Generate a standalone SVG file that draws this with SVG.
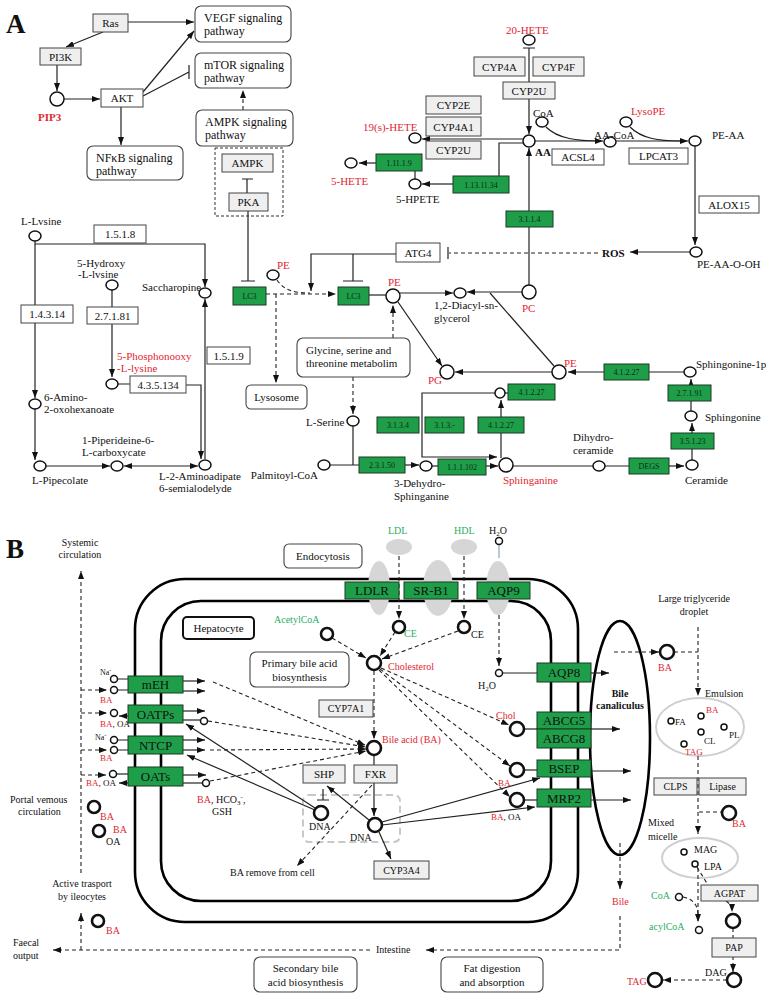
<svg xmlns="http://www.w3.org/2000/svg" width="767" height="995" viewBox="0 0 767 995">
<style>
text{font-family:"Liberation Serif","Times New Roman",serif;font-size:11px;fill:#111}
.r{fill:#e3262f}.g{fill:#2aae5f}.b{font-weight:bold}
.s9{font-size:9px}.s8{font-size:8px}.s10{font-size:10px}.s12{font-size:12px}.s13{font-size:13px}
.m{text-anchor:middle}
.bx{fill:#efefef;stroke:#444;stroke-width:1}
.wb{fill:#fff;stroke:#444;stroke-width:1}
.gb{fill:#1f9e4a;stroke:#1a3a22;stroke-width:1}
.gt{font-size:8px;fill:#0b2a12;text-anchor:middle}
.rb{fill:#fff;stroke:#444;stroke-width:1.1}
.c{fill:#fff;stroke:#111;stroke-width:1.5}
.ct{fill:#fff;stroke:#111;stroke-width:2.6}
.ln{fill:none;stroke:#222;stroke-width:1.2}
.dl{fill:none;stroke:#222;stroke-width:1.1;stroke-dasharray:4 3}
.mem{fill:none;stroke:#000;stroke-width:2.6}
.ge{fill:#d6d6d6;stroke:none}
</style>
<defs>
<marker id="a" markerWidth="8" markerHeight="6" refX="8" refY="3" orient="auto-start-reverse" markerUnits="userSpaceOnUse"><path d="M0,0 L8,3 L0,6 z" fill="#111"/></marker>
</defs>

<!-- ================= PANEL A ================= -->
<text x="6" y="33" style="font-size:27px;font-weight:bold">A</text>

<g id="connectorsA">
<path class="ln" d="M128,22 H194" marker-end="url(#a)"/>
<path class="ln" d="M103,32 L66,47" marker-end="url(#a)"/>
<path class="ln" d="M57,65 V91" marker-end="url(#a)"/>
<path class="ln" d="M64,99 H100" marker-end="url(#a)"/>
<path class="ln" d="M143,92 L194,31" marker-end="url(#a)"/>
<path class="ln" d="M143,96 L189,72 M189,65 V79"/>
<path class="ln" d="M121,107 V145" marker-end="url(#a)"/>
<path class="dl" d="M243,110 V90" marker-end="url(#a)"/>
<path class="ln" d="M247,193 V179 M242,179 H253"/>
<path class="ln" d="M248,211 V281 M241,281 H255"/>
<!-- lysine -->
<path class="ln" d="M35,241 V398" marker-end="url(#a)"/>
<path class="ln" d="M35,244 H205 V287" marker-end="url(#a)"/>
<path class="ln" d="M112,290 V377" marker-end="url(#a)"/>
<path class="ln" d="M118,384 H130 M186,385 H201 V459" marker-end="url(#a)"/>
<path class="ln" d="M205,459 V299" marker-end="url(#a)"/>
<path class="ln" d="M35,409 V460" marker-end="url(#a)"/>
<path class="ln" d="M46,466 H110" marker-end="url(#a)"/>
<path class="ln" d="M124,466 H198" marker-start="url(#a)" marker-end="url(#a)"/>
<!-- LC3 / PE -->
<path class="ln" d="M396,254 H311 V291" marker-end="url(#a)"/>
<path class="ln" d="M353,254 V281 M343,281 H363"/>
<path class="dl" d="M277,280 C285,292 298,293 310,293"/>
<path class="dl" d="M266,294 H336" marker-end="url(#a)"/>
<path class="dl" d="M276,294 V383" marker-end="url(#a)"/>
<path class="ln" d="M369,295 H386"/>
<path class="ln" d="M400,293 H453" marker-end="url(#a)"/>
<path class="ln" d="M522,292 H467" marker-end="url(#a)"/>
<path class="ln" d="M554,366 L490,293"/>
<path class="ln" d="M398,302 L442,366" marker-end="url(#a)"/>
<path class="ln" d="M552,372 H455" marker-end="url(#a)"/>
<path class="dl" d="M393,338 V305" marker-end="url(#a)"/>
<path class="dl" d="M353,377 V414" marker-end="url(#a)"/>
<path class="ln" d="M353,426 V465 M330,465 H359"/>
<path class="ln" d="M405,465 H419" marker-end="url(#a)"/>
<path class="ln" d="M432,466 H438"/>
<path class="ln" d="M486,466 H498" marker-end="url(#a)"/>
<path class="ln" d="M501,458 V400" marker-end="url(#a)"/>
<path class="ln" d="M495,393 H422 V457 H497" marker-end="url(#a)"/>
<path class="ln" d="M505,393 H508"/>
<path class="ln" d="M690,372 H649 M604,372 H568" marker-end="url(#a)"/>
<path class="ln" d="M691,411 V379" marker-end="url(#a)"/>
<path class="ln" d="M692,460 V423" marker-end="url(#a)"/>
<path class="ln" d="M513,466 H593 M605,466 H629"/>
<path class="ln" d="M669,466 H684" marker-end="url(#a)"/>
<!-- AA -->
<path class="ln" d="M523,48 H535 M529,48 V134" marker-end="url(#a)"/>
<path class="ln" d="M546,127 C558,139 578,141 600,141"/>
<path class="ln" d="M535,141 H603" marker-end="url(#a)"/>
<path class="ln" d="M630,127 C642,139 660,141 680,141"/>
<path class="ln" d="M616,141 H688" marker-end="url(#a)"/>
<path class="ln" d="M695,146 V245" marker-end="url(#a)"/>
<path class="ln" d="M690,252 H630" marker-end="url(#a)"/>
<path class="dl" d="M598,253 H449"/>
<path class="ln" d="M448,247 V259"/>
<path class="ln" d="M529,285 V148" marker-end="url(#a)"/>
<path class="ln" d="M523,139 H422" marker-end="url(#a)"/>
<path class="ln" d="M524,143 H499 V176"/>
<path class="ln" d="M453,184 H422" marker-end="url(#a)"/>
<path class="ln" d="M415,179 V171"/>
<path class="ln" d="M376,163 H359" marker-end="url(#a)"/>
</g>

<g id="ras"><rect class="bx" x="93" y="14" width="35" height="18"/><text class="m" x="110.5" y="27">Ras</text></g>
<g id="pi3k"><rect class="bx" x="40" y="48" width="41" height="17"/><text class="m" x="60.5" y="61">PI3K</text></g>
<g id="pip3"><circle class="c" cx="57" cy="99" r="7"/><text class="r b" x="38" y="121">PIP3</text></g>
<g id="akt"><rect class="wb" x="101" y="89" width="42" height="18"/><text class="m" x="122" y="102">AKT</text></g>
<g id="nfkb"><rect class="rb" x="87" y="146" width="96" height="34" rx="6"/><text class="s12" x="96" y="162">NFκB  signaling</text><text class="s12" x="96" y="175">pathway</text></g>
<g id="vegf"><rect class="rb" x="195" y="6" width="96" height="36" rx="6"/><text class="s12" x="204" y="22">VEGF  signaling</text><text class="s12" x="204" y="35">pathway</text></g>
<g id="mtor"><rect class="rb" x="195" y="53" width="96" height="35" rx="6"/><text class="s12" x="204" y="69">mTOR  signaling</text><text class="s12" x="204" y="82">pathway</text></g>
<g id="ampksig"><rect class="rb" x="196" y="110" width="97" height="36" rx="6"/><text class="s12" x="205" y="126">AMPK  signaling</text><text class="s12" x="205" y="139">pathway</text></g>
<rect x="215" y="148" width="68" height="68" fill="none" stroke="#333" stroke-width="1" stroke-dasharray="3 2"/>
<g id="ampk"><rect class="bx" x="222" y="154" width="51" height="18"/><text class="m" x="247.5" y="167">AMPK</text></g>
<g id="pka"><rect class="bx" x="229" y="193" width="39" height="18"/><text class="m" x="248.5" y="206">PKA</text></g>
<g id="lc3a"><rect class="gb" x="233" y="287" width="33" height="18"/><text class="gt" x="249.5" y="299">LC3</text></g>
<g id="lc3b"><rect class="gb" x="338" y="287" width="31" height="18"/><text class="gt" x="353.5" y="299">LC3</text></g>

<g id="llysine"><text x="21" y="225">L-Lvsine</text><ellipse class="c" cx="35" cy="236" rx="6" ry="5"/></g>
<g id="e1518"><rect class="wb" x="94" y="225" width="52" height="18"/><text class="m" x="120" y="238">1.5.1.8</text></g>
<g id="e14314"><rect class="wb" x="21" y="305" width="52" height="18"/><text class="m" x="47" y="318">1.4.3.14</text></g>
<g id="hydroxy"><text x="77" y="267">5-Hydroxy</text><text x="78" y="278">-L-lvsine</text><ellipse class="c" cx="112" cy="285" rx="6" ry="5"/></g>
<g id="e27181"><rect class="wb" x="87" y="307" width="51" height="17"/><text class="m" x="112.5" y="320">2.7.1.81</text></g>
<g id="phospho"><text class="r" x="117" y="360">5-Phosphonooxy</text><text class="r" x="117" y="372">-L-lysine</text><ellipse class="c" cx="112" cy="384" rx="6" ry="5"/></g>
<g id="e435134"><rect class="wb" x="130" y="376" width="56" height="17"/><text class="m" x="158" y="389">4.3.5.134</text></g>
<g id="sacch"><text x="142" y="291">Saccharopine</text><ellipse class="c" cx="205" cy="293" rx="6" ry="5"/></g>
<g id="e1519"><rect class="wb" x="207" y="347" width="43" height="17"/><text class="m" x="228.5" y="360">1.5.1.9</text></g>
<g id="amino6"><ellipse class="c" cx="35" cy="404" rx="6" ry="5"/><text x="44" y="401">6-Amino-</text><text x="44" y="413">2-oxohexanoate</text></g>
<g id="pipecolate"><ellipse class="c" cx="40" cy="466" rx="6" ry="5"/><text x="32" y="484">L-Pipecolate</text></g>
<g id="piperideine"><ellipse class="c" cx="117" cy="466" rx="6" ry="5"/><text x="82" y="444">1-Piperideine-6-</text><text x="82" y="456">L-carboxycate</text></g>
<g id="aminoadipate"><ellipse class="c" cx="205" cy="465" rx="6" ry="5"/><text x="159" y="480">L-2-Aminoadipate</text><text x="159" y="492">6-semialodelyde</text></g>

<g id="atg4"><rect class="wb" x="396" y="243" width="44" height="19"/><text class="m" x="418" y="257">ATG4</text></g>
<g id="pe1"><ellipse class="c" cx="273" cy="275" rx="6" ry="5"/><text class="r" x="277" y="269">PE</text></g>
<g id="lysosome"><rect class="rb" x="246" y="385" width="61" height="24" rx="5"/><text class="m" x="276.5" y="401">Lysosome</text></g>
<g id="pe2"><circle class="c" cx="393" cy="296" r="7"/><text class="r" x="388" y="286">PE</text></g>
<g id="diacyl"><ellipse class="c" cx="460" cy="293" rx="6" ry="5"/><text x="434" y="309">1,2-Diacyl-sn-</text><text x="434" y="322">glycerol</text></g>
<g id="pg"><circle class="c" cx="447" cy="372" r="7"/><text class="r" x="428" y="384">PG</text></g>
<g id="glycine"><rect class="rb" x="297" y="338" width="113" height="39" rx="6"/><text x="306" y="354">Glycine, serine and</text><text x="306" y="367">threonine metabolim</text></g>
<g id="lserine"><text x="306" y="426">L-Serine</text><ellipse class="c" cx="353" cy="421" rx="6" ry="5"/></g>
<g id="palmitoyl"><ellipse class="c" cx="324" cy="465" rx="6" ry="5"/><text x="318" y="479" style="text-anchor:end">Palmitoyl-CoA</text></g>
<g id="e23150"><rect class="gb" x="359" y="457" width="46" height="16"/><text class="gt" x="382" y="468">2.3.1.50</text></g>
<g id="dehydro"><ellipse class="c" cx="426" cy="466" rx="6" ry="5"/><text x="394" y="487">3-Dehydro-</text><text x="394" y="500">Sphinganine</text></g>
<g id="e111102"><rect class="gb" x="438" y="459" width="48" height="16"/><text class="gt" x="462" y="470">1.1.1.102</text></g>
<g id="sphinganine"><circle class="c" cx="506" cy="465" r="7"/><text class="r" x="503" y="484">Sphinganine</text></g>
<g id="e3134"><rect class="gb" x="377" y="417" width="42" height="16"/><text class="gt" x="398" y="428">3.1.3.4</text></g>
<g id="e313"><rect class="gb" x="425" y="417" width="39" height="16"/><text class="gt" x="444.5" y="428">3.1.3.-</text></g>
<g id="e41227a"><rect class="gb" x="478" y="417" width="46" height="16"/><text class="gt" x="501" y="428">4.1.2.27</text></g>
<g id="cir393"><ellipse class="c" cx="500" cy="393" rx="5" ry="5"/></g>
<g id="e41227b"><rect class="gb" x="508" y="384" width="47" height="16"/><text class="gt" x="531.5" y="395">4.1.2.27</text></g>
<g id="pe3"><circle class="c" cx="559" cy="372" r="7"/><text class="r" x="564" y="367">PE</text></g>
<g id="e41227c"><rect class="gb" x="604" y="364" width="45" height="16"/><text class="gt" x="626.5" y="375">4.1.2.27</text></g>
<g id="sph1p"><ellipse class="c" cx="690" cy="372" rx="6" ry="5"/><text x="696" y="368">Sphingonine-1p</text></g>
<g id="e27191"><rect class="gb" x="668" y="385" width="43" height="16"/><text class="gt" x="689.5" y="396">2.7.1.91</text></g>
<g id="sphingonine"><ellipse class="c" cx="691" cy="416" rx="6" ry="5"/><text x="705" y="421">Sphingonine</text></g>
<g id="e35123"><rect class="gb" x="671" y="433" width="43" height="16"/><text class="gt" x="692.5" y="444">3.5.1.23</text></g>
<g id="ceramide"><ellipse class="c" cx="692" cy="465" rx="6" ry="5"/><text x="685" y="484">Ceramide</text></g>
<g id="dihydro"><ellipse class="c" cx="599" cy="466" rx="6" ry="5"/><text x="573" y="441">Dihydro-</text><text x="573" y="454">ceramide</text></g>
<g id="degs"><rect class="gb" x="629" y="458" width="40" height="16"/><text class="gt" x="649" y="469">DEGS</text></g>

<g id="hete20"><text class="r" x="506" y="34">20-HETE</text><ellipse class="c" cx="529" cy="40" rx="6" ry="5"/></g>
<g id="cyp4a"><rect class="bx" x="474" y="57" width="51" height="19"/><text class="m" x="499.5" y="71">CYP4A</text></g>
<g id="cyp4f"><rect class="bx" x="533" y="57" width="51" height="19"/><text class="m" x="558.5" y="71">CYP4F</text></g>
<g id="cyp2u1"><rect class="bx" x="503" y="82" width="52" height="17"/><text class="m" x="529" y="95">CYP2U</text></g>
<g id="coa"><text x="533" y="117">CoA</text><ellipse class="c" cx="542" cy="122" rx="6" ry="5"/></g>
<g id="aa"><circle class="c" cx="529" cy="141" r="6"/><text class="b" x="535" y="156">AA</text></g>
<g id="aacoa"><ellipse class="c" cx="610" cy="142" rx="6" ry="5"/><text x="594" y="139">AA-CoA</text></g>
<g id="acsl4"><rect class="wb" x="552" y="149" width="52" height="16"/><text class="m" x="578" y="161">ACSL4</text></g>
<g id="lysope"><text class="r" x="631" y="115">LysoPE</text><ellipse class="c" cx="626" cy="122" rx="6" ry="5"/></g>
<g id="peaa"><ellipse class="c" cx="695" cy="141" rx="6" ry="5"/><text x="712" y="139">PE-AA</text></g>
<g id="lpcat3"><rect class="wb" x="629" y="148" width="59" height="16"/><text class="m" x="658.5" y="160">LPCAT3</text></g>
<g id="alox15"><rect class="wb" x="699" y="196" width="60" height="17"/><text class="m" x="729" y="209">ALOX15</text></g>
<g id="peaaooh"><ellipse class="c" cx="696" cy="252" rx="6" ry="5"/><text x="697" y="268">PE-AA-O-OH</text></g>
<g id="ros"><text class="b" x="602" y="257">ROS</text></g>
<g id="e3114"><rect class="gb" x="506" y="211" width="47" height="16"/><text class="gt" x="529.5" y="222">3.1.1.4</text></g>
<g id="pc"><circle class="c" cx="529" cy="292" r="7"/><text class="r" x="522" y="312">PC</text></g>
<g id="hete19"><ellipse class="c" cx="415" cy="138" rx="6" ry="5"/><text class="r" x="363" y="131">19(s)-HETE</text></g>
<g id="cyp2e"><rect class="bx" x="426" y="96" width="55" height="18"/><text class="m" x="453.5" y="109">CYP2E</text></g>
<g id="cyp4a1"><rect class="bx" x="426" y="117" width="55" height="19"/><text class="m" x="453.5" y="131">CYP4A1</text></g>
<g id="cyp2u2"><rect class="bx" x="426" y="141" width="55" height="18"/><text class="m" x="453.5" y="154">CYP2U</text></g>
<g id="e1131134"><rect class="gb" x="453" y="176" width="56" height="17"/><text class="gt" x="481" y="188">1.13.11.34</text></g>
<g id="hpete"><ellipse class="c" cx="415" cy="184" rx="6" ry="5"/><text x="396" y="203">5-HPETE</text></g>
<g id="e11119"><rect class="gb" x="376" y="154" width="46" height="17"/><text class="gt" x="399" y="166">1.11.1.9</text></g>
<g id="hete5"><ellipse class="c" cx="351" cy="163" rx="6" ry="5"/><text class="r" x="331" y="185">5-HETE</text></g>

<!-- ================= PANEL B ================= -->
<text x="6" y="558" style="font-size:27px;font-weight:bold">B</text>

<g id="membranes">
<rect class="mem" x="135" y="579" width="443" height="343" rx="50"/>
<rect class="mem" x="161" y="601" width="390" height="300" rx="40"/>
<ellipse class="ge" cx="379" cy="588" rx="11" ry="27"/>
<ellipse class="ge" cx="438" cy="588" rx="15" ry="28"/>
<ellipse class="ge" cx="498" cy="588" rx="12" ry="27"/>
<ellipse class="ge" cx="399" cy="547" rx="13" ry="8"/>
<ellipse class="ge" cx="464" cy="547" rx="13" ry="8"/>
<ellipse cx="620" cy="738" rx="30" ry="117" fill="none" stroke="#000" stroke-width="2.6"/>
<ellipse cx="700" cy="727" rx="44" ry="29" fill="none" stroke="#cfcfcf" stroke-width="2"/>
<ellipse cx="700" cy="858" rx="38" ry="20" fill="none" stroke="#cfcfcf" stroke-width="2"/>
<rect x="303" y="795" width="97" height="47" rx="6" fill="none" stroke="#c8c8c8" stroke-width="2" stroke-dasharray="7 4"/>
</g>

<g id="connectorsB">
<path class="dl" d="M81,873 V571" marker-end="url(#a)"/>
<path class="dl" d="M81,690 H107" marker-end="url(#a)"/>
<path class="dl" d="M81,713 H107" marker-end="url(#a)"/>
<path class="dl" d="M81,750 H107" marker-end="url(#a)"/>
<path class="dl" d="M81,775 H106" marker-end="url(#a)"/>
<path class="dl" d="M81,950 V913" marker-end="url(#a)"/>
<path class="dl" d="M620,916 V950 H426" marker-end="url(#a)"/>
<path class="dl" d="M370,950 H53" marker-end="url(#a)"/>
<path class="dl" d="M620,843 V889" marker-end="url(#a)"/>
<path d="M499,545 V558" stroke="#7a8fb0" stroke-width="1" fill="none"/>
<path class="dl" d="M499,615 V666" marker-end="url(#a)"/>
<path class="ln" d="M503,673 H537"/>
<path class="ln" d="M591,673 H609" marker-end="url(#a)"/>
<path class="dl" d="M399,556 V619" marker-end="url(#a)"/>
<path class="dl" d="M464,556 V619" marker-end="url(#a)"/>
<path class="dl" d="M332,638 L366,658" marker-end="url(#a)"/>
<path class="dl" d="M395,632 L380,656" marker-end="url(#a)"/>
<path class="dl" d="M458,631 L382,659" marker-end="url(#a)"/>
<path class="dl" d="M374,671 V739" marker-end="url(#a)"/>
<path class="ln" d="M374,755 V765"/>
<path class="dl" d="M381,668 L509,725" marker-end="url(#a)"/>
<path class="dl" d="M380,669 L510,766" marker-end="url(#a)"/>
<path class="dl" d="M379,670 L510,797" marker-end="url(#a)"/>
<path class="ln" d="M524,729 H537"/>
<path class="ln" d="M591,729 H620" marker-end="url(#a)"/>
<path class="ln" d="M524,770 H537"/>
<path class="ln" d="M591,771 H631" marker-end="url(#a)"/>
<path class="ln" d="M524,800 H537"/>
<path class="ln" d="M591,800 H631" marker-end="url(#a)"/>
<path class="ln" d="M382,822 L540,778" marker-end="url(#a)"/>
<path class="ln" d="M382,825 L535,807" marker-end="url(#a)"/>
<!-- left transporters -->
<path class="ln" d="M118,679 H128 M118,690 H128"/>
<path class="ln" d="M183,681 H205" marker-end="url(#a)"/>
<path class="ln" d="M183,691 H205" marker-end="url(#a)"/>
<path class="dl" d="M213,682 L365,745" marker-end="url(#a)"/>
<path class="ln" d="M128,716 H119" marker-end="url(#a)"/>
<path class="ln" d="M183,711 H205" marker-end="url(#a)"/>
<path class="ln" d="M183,720 H200"/>
<path class="dl" d="M208,721 L366,747" marker-end="url(#a)"/>
<path class="ln" d="M118,740 H128 M118,750 H128"/>
<path class="ln" d="M183,740 H205" marker-end="url(#a)"/>
<path class="ln" d="M183,750 H205" marker-end="url(#a)"/>
<path class="dl" d="M210,750 L366,749" marker-end="url(#a)"/>
<path class="ln" d="M117,774 H128"/>
<path class="ln" d="M128,783 H119" marker-end="url(#a)"/>
<path class="ln" d="M183,775 H206" marker-end="url(#a)"/>
<path class="ln" d="M183,783 H202"/>
<path class="dl" d="M210,781 L366,751" marker-end="url(#a)"/>
<path class="ln" d="M315,808 L186,724" marker-end="url(#a)"/>
<path class="ln" d="M315,810 L187,755" marker-end="url(#a)"/>
<!-- nucleus -->
<path class="ln" d="M323,789 V800 M317,800 H329"/>
<path class="ln" d="M374,783 V816" marker-end="url(#a)"/>
<path class="ln" d="M369,820 L327,786" marker-end="url(#a)"/>
<path class="ln" d="M379,832 L391,859" marker-end="url(#a)"/>
<path class="dl" d="M372,785 L297,866" marker-end="url(#a)"/>
<!-- right side -->
<path class="dl" d="M698,627 V696" marker-end="url(#a)"/>
<path class="dl" d="M614,652 H659" marker-end="url(#a)"/>
<path class="dl" d="M674,652 H698"/>
<path class="dl" d="M698,756 V834" marker-end="url(#a)"/>
<path class="dl" d="M699,812 H722"/>
<path class="dl" d="M698,868 V922" marker-end="url(#a)"/>
<path class="dl" d="M697,867 L708,885"/>
<path class="dl" d="M726,901 Q732,905 732,912" marker-end="url(#a)"/>
<path class="dl" d="M683,897 Q698,900 698,915"/>
<path class="dl" d="M733,928 V972" marker-end="url(#a)"/>
<path class="dl" d="M727,980 H663" marker-end="url(#a)"/>
</g>

<g id="systemic"><text class="s10 m" x="80" y="546">Systemic</text><text class="s10 m" x="80" y="558">circulation</text></g>
<g id="portal"><text class="s10" x="10" y="803">Portal vemous</text><text class="s10" x="18" y="815">circulation</text></g>
<g id="activetr"><text class="s10 m" x="82" y="887">Active trasport</text><text class="s10 m" x="82" y="900">by ileocytes</text></g>
<g id="faecal"><text class="s10" x="13" y="946">Faecal</text><text class="s10" x="13" y="959">output</text></g>
<g id="ba_portal1"><circle class="ct" cx="94" cy="807" r="6"/><text class="s10 r" x="100" y="820">BA</text></g>
<g id="ba_portal2"><circle class="ct" cx="99" cy="831" r="6"/><text class="s10 r" x="113" y="833">BA</text><text class="s10" x="106" y="845">OA</text></g>
<g id="ba_ileo"><circle class="ct" cx="98" cy="921" r="6"/><text class="s10 r" x="106" y="934">BA</text></g>
<g id="intestine"><text class="s10" x="376" y="953">Intestine</text></g>

<g id="ldlr"><rect class="gb" x="345" y="582" width="54" height="17"/><text class="s13 m" x="372" y="595">LDLR</text></g>
<g id="srb1"><rect class="gb" x="404" y="582" width="54" height="17"/><text class="s13 m" x="431" y="595">SR-B1</text></g>
<g id="aqp9"><rect class="gb" x="477" y="582" width="53" height="17"/><text class="s13 m" x="503.5" y="595">AQP9</text></g>
<g id="endocytosis"><rect class="rb" x="284" y="544" width="78" height="24" rx="5"/><text class="m" x="323" y="560">Endocytosis</text></g>
<g id="ldl"><text class="s10 g" x="388" y="534">LDL</text></g>
<g id="hdl"><text class="s10 g" x="454" y="534">HDL</text></g>
<g id="h2o_top"><text class="s10" x="489" y="534">H<tspan font-size="7" dy="2">2</tspan><tspan dy="-2">O</tspan></text><circle class="c" cx="499" cy="541" r="3.5" stroke-width="2"/></g>
<g id="h2o_in"><circle class="c" cx="499" cy="673" r="3.5" stroke-width="2"/><text class="s10" x="478" y="689">H<tspan font-size="7" dy="2">2</tspan><tspan dy="-2">O</tspan></text></g>
<g id="ce1"><circle class="ct" cx="399" cy="627" r="6"/><text class="s10 g" x="404" y="637">CE</text></g>
<g id="ce2"><circle class="ct" cx="464" cy="627" r="6"/><text class="s10" x="471" y="638">CE</text></g>
<g id="acetylcoa"><text class="s10 g" x="274" y="623">AcetylCoA</text><circle class="ct" cx="327" cy="634" r="6"/></g>
<g id="cholesterol"><circle class="ct" cx="374" cy="663" r="7"/><text class="s10 r" x="388" y="670">Cholesterol</text></g>
<g id="primary"><rect class="rb" x="250" y="652" width="99" height="35" rx="6"/><text class="m" x="299.5" y="667">Primary bile acid</text><text class="m" x="299.5" y="681">biosynthesis</text></g>
<g id="cyp7a1"><rect class="bx" x="319" y="700" width="54" height="17"/><text class="s10 m" x="346" y="712">CYP7A1</text></g>
<g id="bileacid"><circle class="ct" cx="374" cy="748" r="7"/><text class="s10 r" x="382" y="743">Bile acid (BA)</text></g>
<g id="hepatocyte"><rect x="183" y="617" width="71" height="22" rx="4" fill="#fff" stroke="#111" stroke-width="2"/><text class="m" x="218.5" y="632">Hepatocyte</text></g>

<g id="meh"><rect class="gb" x="128" y="676" width="55" height="17"/><text class="s13 m" x="155.5" y="689">mEH</text><text class="s8" x="100" y="675">Na<tspan font-size="6" dy="-3">-</tspan></text><circle class="c" cx="114" cy="679" r="3.5" stroke-width="2"/><circle class="c" cx="114" cy="690" r="3.5" stroke-width="2"/><text class="s9 r" x="100" y="703">BA</text></g>
<g id="oatps"><rect class="gb" x="128" y="705" width="55" height="18"/><text class="s13 m" x="155.5" y="719">OATPs</text><circle class="c" cx="114" cy="713" r="3.5" stroke-width="2"/><text class="s9" x="100" y="727"><tspan class="r">BA</tspan>, OA</text><circle class="c" cx="204" cy="721" r="3.5" stroke-width="2"/></g>
<g id="ntcp"><rect class="gb" x="128" y="736" width="55" height="18"/><text class="s13 m" x="155.5" y="750">NTCP</text><text class="s8" x="95" y="740">Na<tspan font-size="6" dy="-3">-</tspan></text><circle class="c" cx="114" cy="740" r="3.5" stroke-width="2"/><circle class="c" cx="114" cy="750" r="3.5" stroke-width="2"/><text class="s9 r" x="100" y="761">BA</text></g>
<g id="oats"><rect class="gb" x="128" y="767" width="55" height="19"/><text class="s13 m" x="155.5" y="781">OATs</text><circle class="c" cx="113" cy="774" r="3.5" stroke-width="2"/><text class="s9" x="86" y="786"><tspan class="r">BA</tspan>, OA</text><circle class="c" cx="206" cy="783" r="3.5" stroke-width="2"/><text class="s10" x="197" y="803"><tspan class="r">BA</tspan>, HCO<tspan font-size="7" dy="2">3</tspan><tspan font-size="7" dy="-6">-</tspan><tspan dy="4">,</tspan></text><text class="s10" x="212" y="815">GSH</text></g>

<g id="shp"><rect class="bx" x="303" y="765" width="42" height="18"/><text class="m" x="324" y="778">SHP</text></g>
<g id="fxr"><rect class="bx" x="354" y="765" width="43" height="18"/><text class="m" x="375.5" y="778">FXR</text></g>
<g id="dna1"><circle class="ct" cx="321" cy="813" r="7"/><text class="s10" x="309" y="830">DNA</text></g>
<g id="dna2"><circle class="ct" cx="375" cy="825" r="7"/><text class="s10" x="350" y="841">DNA</text></g>
<g id="cyp3a4"><rect class="bx" x="374" y="861" width="55" height="18"/><text class="s10 m" x="401.5" y="874">CYP3A4</text></g>
<g id="baremove"><text class="s10" x="230" y="876">BA remove from cell</text></g>
<g id="secondary"><rect class="rb" x="254" y="957" width="103" height="35" rx="6"/><text class="m" x="305.5" y="972">Secondary bile</text><text class="m" x="305.5" y="986">acid biosynthesis</text></g>
<g id="fatdig"><rect class="rb" x="441" y="957" width="102" height="35" rx="6"/><text class="m" x="492" y="972">Fat digestion</text><text class="m" x="492" y="986">and absorption</text></g>

<g id="aqp8"><rect class="gb" x="537" y="663" width="54" height="19"/><text class="s13 m" x="564" y="677">AQP8</text></g>
<g id="abcg5"><rect class="gb" x="537" y="712" width="54" height="17"/><text class="s13 m" x="564" y="725">ABCG5</text></g>
<g id="abcg8"><rect class="gb" x="537" y="729" width="54" height="19"/><text class="s13 m" x="564" y="743">ABCG8</text></g>
<g id="bsep"><rect class="gb" x="537" y="760" width="54" height="17"/><text class="s13 m" x="564" y="773">BSEP</text></g>
<g id="mrp2"><rect class="gb" x="537" y="789" width="54" height="18"/><text class="s13 m" x="564" y="803">MRP2</text></g>
<g id="chol"><circle class="ct" cx="517" cy="729" r="7"/><text class="s10 r" x="496" y="719">Chol</text></g>
<g id="ba_bsep"><circle class="ct" cx="517" cy="770" r="7"/><text class="s9 r" x="498" y="786">BA</text></g>
<g id="ba_mrp2"><circle class="ct" cx="517" cy="800" r="7"/><text class="s9" x="491" y="820"><tspan class="r">BA</tspan>, OA</text></g>
<g id="canaliculus"><text class="s10 b m" x="620" y="697">Bile</text><text class="s10 b m" x="620" y="709">canaliculus</text></g>
<g id="bile"><text class="s10 r" x="612" y="905">Bile</text></g>

<g id="droplet"><text class="s10 m" x="694" y="602">Large triglyceride</text><text class="s10 m" x="694" y="615">droplet</text></g>
<g id="ba_emul"><circle class="ct" cx="667" cy="652" r="7"/><text class="s10 r" x="658" y="671">BA</text></g>
<g id="emulsion"><text class="s10" x="705" y="697">Emulsion</text>
<circle class="c" cx="671" cy="721" r="3" stroke-width="2"/><text class="s9" x="675" y="725">FA</text>
<circle class="c" cx="701" cy="716" r="3" stroke-width="2"/><text class="s9 r" x="706" y="713">BA</text>
<circle class="c" cx="724" cy="727" r="3" stroke-width="2"/><text class="s9" x="729" y="738">PL</text>
<circle class="c" cx="701" cy="732" r="3" stroke-width="2"/><text class="s9" x="704" y="744">CL</text>
<circle class="c" cx="684" cy="744" r="3" stroke-width="2"/><text class="s9 r" x="685" y="755">TAG</text></g>
<g id="clps"><rect class="bx" x="654" y="778" width="43" height="17"/><text class="s10 m" x="675.5" y="790">CLPS</text></g>
<g id="lipase"><rect class="bx" x="699" y="778" width="47" height="17"/><text class="s10 m" x="722.5" y="790">Lipase</text></g>
<g id="ba_lip"><circle class="ct" cx="729" cy="813" r="7"/><text class="s10 r" x="732" y="827">BA</text></g>
<g id="micelle"><text class="s10" x="648" y="826">Mixed</text><text class="s10" x="648" y="840">micelle</text>
<circle class="c" cx="684" cy="852" r="3" stroke-width="2"/><text class="s10" x="694" y="853">MAG</text>
<circle class="c" cx="695" cy="864" r="3" stroke-width="2"/><text class="s10" x="704" y="870">LPA</text></g>
<g id="agpat"><rect class="bx" x="701" y="885" width="57" height="16"/><text class="s10 m" x="729.5" y="897">AGPAT</text></g>
<g id="coa_b"><text class="s10 g" x="651" y="899">CoA</text><circle class="c" cx="679" cy="897" r="3.5" stroke-width="2"/></g>
<g id="acylcoa"><text class="s10 g" x="649" y="930">acylCoA</text><circle class="c" cx="699" cy="930" r="3.5" stroke-width="2"/></g>
<g id="pa"><circle class="ct" cx="733" cy="921" r="7"/></g>
<g id="pap"><rect class="bx" x="712" y="938" width="44" height="19"/><text class="s10 m" x="734" y="951">PAP</text></g>
<g id="dag"><text class="s10" x="705" y="976">DAG</text><circle class="ct" cx="734" cy="980" r="7"/></g>
<g id="tag"><circle class="ct" cx="655" cy="980" r="7"/><text class="s10 r" x="627" y="985">TAG</text></g>
</svg>
